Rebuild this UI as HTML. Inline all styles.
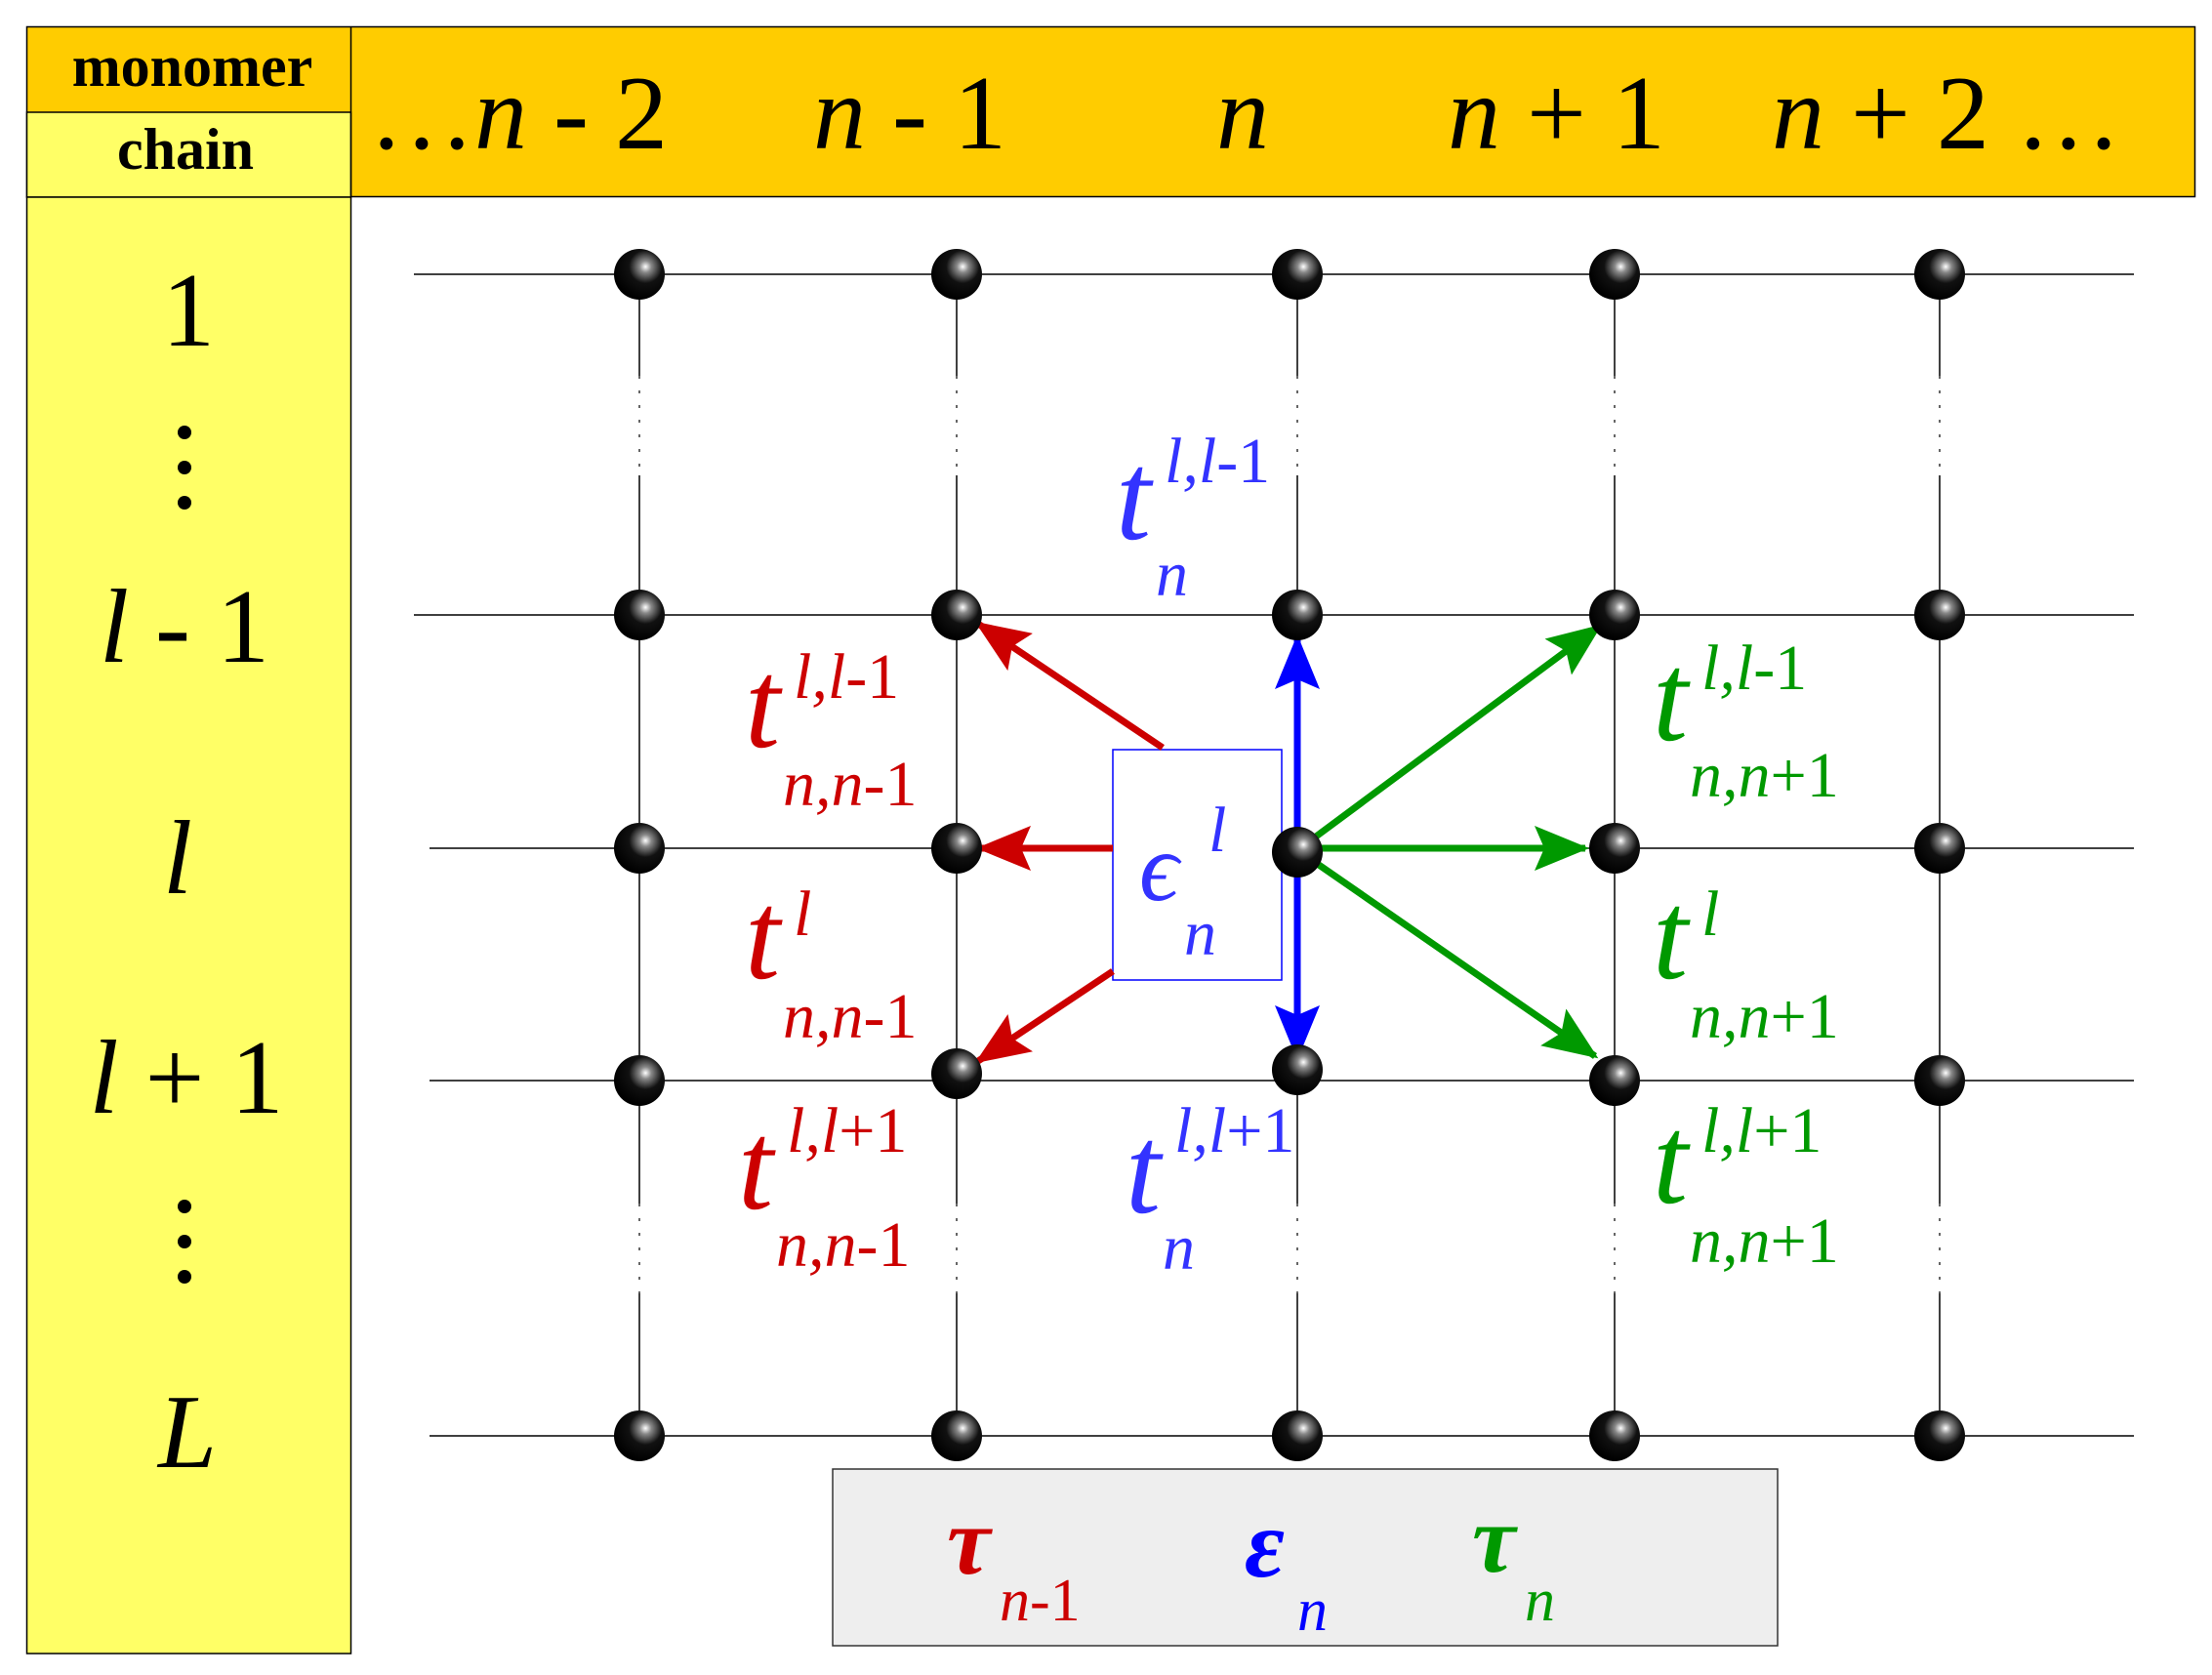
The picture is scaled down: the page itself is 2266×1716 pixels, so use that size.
<!DOCTYPE html>
<html><head><meta charset="utf-8"><style>html,body{margin:0;padding:0;background:#fff}svg{display:block}</style></head><body>
<svg width="2266" height="1716" viewBox="0 0 2266 1716" xmlns="http://www.w3.org/2000/svg" font-family="'Liberation Serif', serif">
<defs>
<radialGradient id="ball" cx="0.62" cy="0.35" r="0.65">
<stop offset="0" stop-color="#ffffff"/><stop offset="0.18" stop-color="#888"/><stop offset="0.5" stop-color="#111"/><stop offset="1" stop-color="#000"/>
</radialGradient>
<marker id="ar" markerUnits="userSpaceOnUse" markerWidth="56" markerHeight="46" refX="52" refY="23" orient="auto"><path d="M0,0 L56,23 L0,46 L10,23 Z" fill="#cc0000"/></marker>
<marker id="ab" markerUnits="userSpaceOnUse" markerWidth="56" markerHeight="46" refX="52" refY="23" orient="auto"><path d="M0,0 L56,23 L0,46 L10,23 Z" fill="#0000ff"/></marker>
<marker id="ag" markerUnits="userSpaceOnUse" markerWidth="56" markerHeight="46" refX="52" refY="23" orient="auto"><path d="M0,0 L56,23 L0,46 L10,23 Z" fill="#009900"/></marker>
</defs>
<rect x="27.5" y="27.5" width="2221" height="174" fill="#ffcc00" stroke="#000" stroke-width="1.5"/>
<rect x="27.5" y="115" width="332" height="87" fill="#ffff66" stroke="#000" stroke-width="1.5"/>
<rect x="27.5" y="202" width="332" height="1492" fill="#ffff66" stroke="#000" stroke-width="1.5"/>
<line x1="359.5" y1="27.5" x2="359.5" y2="202" stroke="#000" stroke-width="1.5"/>
<text x="197" y="88" font-size="60" font-weight="bold" text-anchor="middle">monomer</text>
<text x="190" y="173" font-size="60" font-weight="bold" text-anchor="middle">chain</text>
<g font-size="108" font-style="italic">
<text x="378" y="152"><tspan font-style="normal">…</tspan>n<tspan font-style="normal"> - 2</tspan></text>
<text x="833" y="152">n<tspan font-style="normal"> - 1</tspan></text>
<text x="1246" y="152">n</text>
<text x="1483" y="152">n<tspan font-style="normal"> + 1</tspan></text>
<text x="1815" y="152">n<tspan font-style="normal"> + 2 …</tspan></text>
</g>
<g font-size="108" text-anchor="middle">
<text x="193" y="354">1</text>
<text x="189" y="678"><tspan font-style="italic">l</tspan> - 1</text>
<text x="182" y="915" font-style="italic">l</text>
<text x="191" y="1140"><tspan font-style="italic">l</tspan> + 1</text>
<text x="192" y="1503" font-style="italic">L</text>
</g>
<g fill="#000"><circle cx="189" cy="443" r="7"/><circle cx="189" cy="479" r="7"/><circle cx="189" cy="515" r="7"/>
<circle cx="189" cy="1236" r="7"/><circle cx="189" cy="1272" r="7"/><circle cx="189" cy="1308" r="7"/></g>
<g stroke="#000" stroke-width="1.5">
<line x1="424" y1="281" x2="2186" y2="281"/>
<line x1="424" y1="630" x2="2186" y2="630"/>
<line x1="440" y1="869" x2="2186" y2="869"/>
<line x1="440" y1="1107" x2="2186" y2="1107"/>
<line x1="440" y1="1471" x2="2186" y2="1471"/>
</g>
<g stroke="#000" stroke-width="1.5" fill="none">
<path d="M655,281 V385 M655,487 V1233 M655,1325 V1471"/>
<path d="M980,281 V385 M980,487 V1233 M980,1325 V1471"/>
<path d="M1329,281 V385 M1329,487 V1233 M1329,1325 V1471"/>
<path d="M1654,281 V385 M1654,487 V1233 M1654,1325 V1471"/>
<path d="M1987,281 V385 M1987,487 V1233 M1987,1325 V1471"/>
</g>
<g stroke="#000" stroke-width="1.2" stroke-dasharray="3,12">
<path d="M655,385 V487 M980,385 V487 M1329,385 V487 M1654,385 V487 M1987,385 V487"/>
<path d="M655,1233 V1325 M980,1233 V1325 M1329,1233 V1325 M1654,1233 V1325 M1987,1233 V1325"/>
</g>
<rect x="853" y="1505" width="968" height="181" fill="#eeeeee" stroke="#333" stroke-width="1.5"/>
<rect x="1140" y="768" width="173" height="236" fill="#fff" stroke="#0000ff" stroke-width="1.5"/>
<g stroke-width="7" fill="none">
<line x1="1191" y1="766" x2="1002" y2="639" stroke="#cc0000" marker-end="url(#ar)"/>
<line x1="1140" y1="869" x2="1004" y2="869" stroke="#cc0000" marker-end="url(#ar)"/>
<line x1="1140" y1="995" x2="1002" y2="1087" stroke="#cc0000" marker-end="url(#ar)"/>
<line x1="1329" y1="869" x2="1329" y2="654" stroke="#0000ff" marker-end="url(#ab)"/>
<line x1="1329" y1="869" x2="1329" y2="1082" stroke="#0000ff" marker-end="url(#ab)"/>
<line x1="1344" y1="860" x2="1638" y2="642" stroke="#009900" marker-end="url(#ag)"/>
<line x1="1351" y1="869" x2="1624" y2="869" stroke="#009900" marker-end="url(#ag)"/>
<line x1="1351" y1="886" x2="1634" y2="1082" stroke="#009900" marker-end="url(#ag)"/>
</g>
<g fill="url(#ball)">
<circle cx="655" cy="281" r="26"/><circle cx="980" cy="281" r="26"/><circle cx="1329" cy="281" r="26"/><circle cx="1654" cy="281" r="26"/><circle cx="1987" cy="281" r="26"/>
<circle cx="655" cy="630" r="26"/><circle cx="980" cy="630" r="26"/><circle cx="1329" cy="630" r="26"/><circle cx="1654" cy="630" r="26"/><circle cx="1987" cy="630" r="26"/>
<circle cx="655" cy="869" r="26"/><circle cx="980" cy="869" r="26"/><circle cx="1329" cy="873" r="26"/><circle cx="1654" cy="869" r="26"/><circle cx="1987" cy="869" r="26"/>
<circle cx="655" cy="1107" r="26"/><circle cx="980" cy="1100" r="26"/><circle cx="1329" cy="1096" r="26"/><circle cx="1654" cy="1107" r="26"/><circle cx="1987" cy="1107" r="26"/>
<circle cx="655" cy="1471" r="26"/><circle cx="980" cy="1471" r="26"/><circle cx="1329" cy="1471" r="26"/><circle cx="1654" cy="1471" r="26"/><circle cx="1987" cy="1471" r="26"/>
</g>
<g font-style="italic">
<g fill="#3333ff">
<text x="1143" y="552" font-size="130">t</text>
<text x="1193" y="494" font-size="66">l,l<tspan font-style="normal">-1</tspan></text>
<text x="1184" y="610" font-size="66">n</text>
<text x="1153" y="1242" font-size="130">t</text>
<text x="1203" y="1180" font-size="66">l,l<tspan font-style="normal">+1</tspan></text>
<text x="1191" y="1300" font-size="66">n</text>
<text x="1167" y="922" font-size="100">ϵ</text>
<text x="1238" y="872" font-size="66">l</text>
<text x="1213" y="978" font-size="66">n</text>
</g>
<g fill="#cc0000">
<text x="763" y="765" font-size="130">t</text>
<text x="813" y="715" font-size="66">l,l<tspan font-style="normal">-1</tspan></text>
<text x="802" y="825" font-size="66">n,n<tspan font-style="normal">-1</tspan></text>
<text x="763" y="1002" font-size="130">t</text>
<text x="813" y="958" font-size="66">l</text>
<text x="802" y="1063" font-size="66">n,n<tspan font-style="normal">-1</tspan></text>
<text x="756" y="1238" font-size="130">t</text>
<text x="806" y="1180" font-size="66">l,l<tspan font-style="normal">+1</tspan></text>
<text x="795" y="1297" font-size="66">n,n<tspan font-style="normal">-1</tspan></text>
<text x="970" y="1612" font-size="100" font-weight="bold">τ</text>
<text x="1024" y="1660" font-size="62">n<tspan font-style="normal">-1</tspan></text>
</g>
<g fill="#009900">
<text x="1693" y="758" font-size="130">t</text>
<text x="1743" y="706" font-size="66">l,l<tspan font-style="normal">-1</tspan></text>
<text x="1731" y="816" font-size="66">n,n<tspan font-style="normal">+1</tspan></text>
<text x="1693" y="1002" font-size="130">t</text>
<text x="1743" y="958" font-size="66">l</text>
<text x="1731" y="1063" font-size="66">n,n<tspan font-style="normal">+1</tspan></text>
<text x="1693" y="1232" font-size="130">t</text>
<text x="1743" y="1180" font-size="66">l,l<tspan font-style="normal">+1</tspan></text>
<text x="1731" y="1293" font-size="66">n,n<tspan font-style="normal">+1</tspan></text>
<text x="1508" y="1610" font-size="100" font-weight="bold">τ</text>
<text x="1562" y="1660" font-size="62">n</text>
</g>
<text x="1275" y="1615" font-size="100" font-weight="bold" fill="#0000ff">ε</text>
<text x="1329" y="1670" font-size="62" fill="#0000ff">n</text>
</g>
</svg>
</body></html>
